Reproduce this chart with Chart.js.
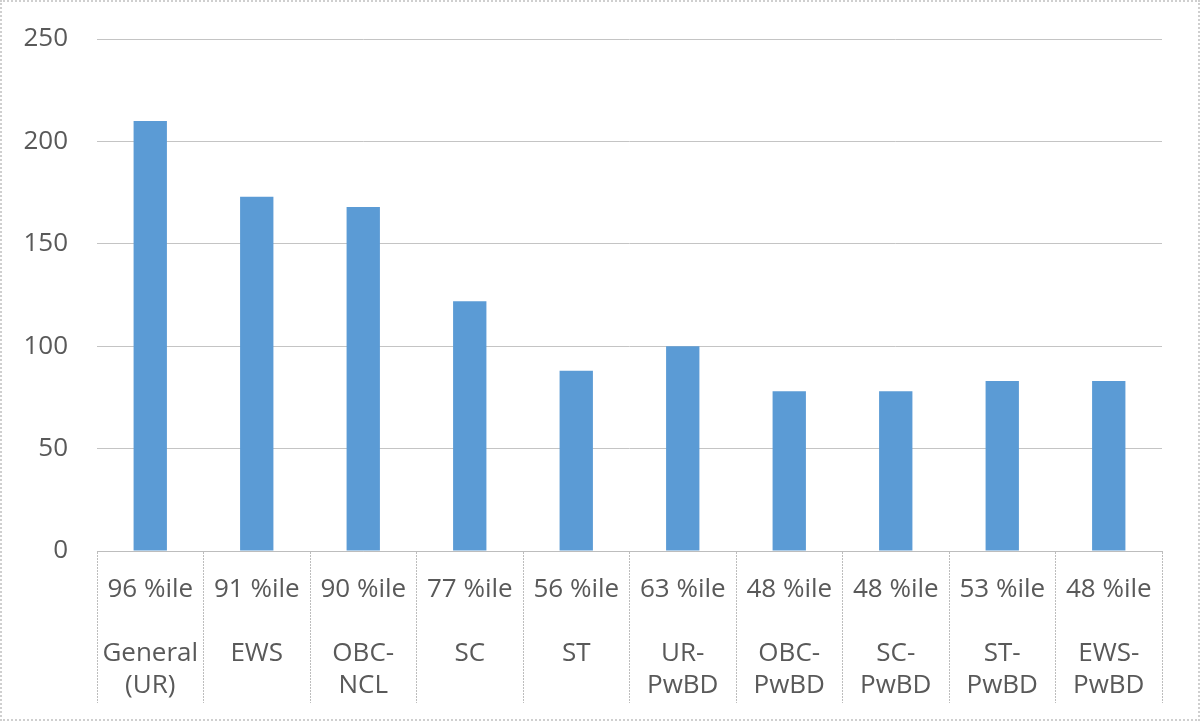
<!DOCTYPE html>
<html>
<head>
<meta charset="utf-8">
<script src="https://cdn.jsdelivr.net/npm/chart.js@4.4.1/dist/chart.umd.min.js"></script>
<style>
    body { margin: 0; background: #fff; }
    #marco {
        width: 1200px;
        height: 721px;
        box-sizing: border-box;
        border: 2px dotted #cfcfcf;
        position: relative;
    }
</style>
</head>
<body>
<div id="marco"><canvas id="grafico"></canvas></div>
<script>
// Datos
const percentiles = ['96 %ile', '91 %ile', '90 %ile', '77 %ile', '56 %ile', '63 %ile', '48 %ile', '48 %ile', '53 %ile', '48 %ile'];
const categorias = [['General', '(UR)'], ['EWS'], ['OBC-', 'NCL'], ['SC'], ['ST'], ['UR-', 'PwBD'], ['OBC-', 'PwBD'], ['SC-', 'PwBD'], ['ST-', 'PwBD'], ['EWS-', 'PwBD']];
const valores = [210, 173, 168, 122, 88, 100, 78, 78, 83, 83];
const ticksY = [0, 50, 100, 150, 200, 250];

// Etiqueta de dos niveles: percentil arriba, categoría abajo (línea vacía de separación)
const etiquetas = percentiles.map((p, i) => [p, ''].concat(categorias[i]));

const gris = '#595959';
const fuente = { family: '"Open Sans", sans-serif', size: 26 };

const ctx = document.getElementById('grafico').getContext('2d');
new Chart(ctx, {
    type: 'bar',
    data: {
        labels: etiquetas,
        datasets: [{
            data: valores,
            backgroundColor: '#5b9bd5',
            borderWidth: 0,
            categoryPercentage: 1,
            barPercentage: 0.313
        }]
    },
    options: {
        responsive: true,
        maintainAspectRatio: false,
        animation: false,
        layout: { padding: { top: 37, right: 36, left: 0, bottom: 0 } },
        plugins: {
            legend: { display: false },
            tooltip: { enabled: false }
        },
        scales: {
            x: {
                offset: true,
                grid: {
                    offset: true,
                    drawOnChartArea: false,
                    drawTicks: true,
                    tickLength: 152,
                    tickColor: '#bdbdbd',
                    tickBorderDash: [2, 1],
                    tickWidth: 1
                },
                border: { display: true, color: '#bdbdbd', dash: [2, 1], width: 1 },
                ticks: {
                    color: gris,
                    font: { ...fuente, lineHeight: '32px' },
                    padding: -129,
                    maxRotation: 0,
                    autoSkip: false
                },
                afterFit: (eje) => { eje.height = 168; }
            },
            y: {
                min: 0,
                max: 250,
                afterBuildTicks: (eje) => { eje.ticks = ticksY.map(v => ({ value: v })); },
                grid: {
                    color: '#c4c4c4',
                    drawTicks: false
                },
                border: { display: false },
                ticks: {
                    color: gris,
                    font: fuente,
                    padding: 29
                },
                afterFit: (eje) => {
                    eje.width = 95;
                    eje.paddingTop = 0;
                    eje.paddingBottom = 0;
                }
            }
        }
    }
});
</script>
</body>
</html>
